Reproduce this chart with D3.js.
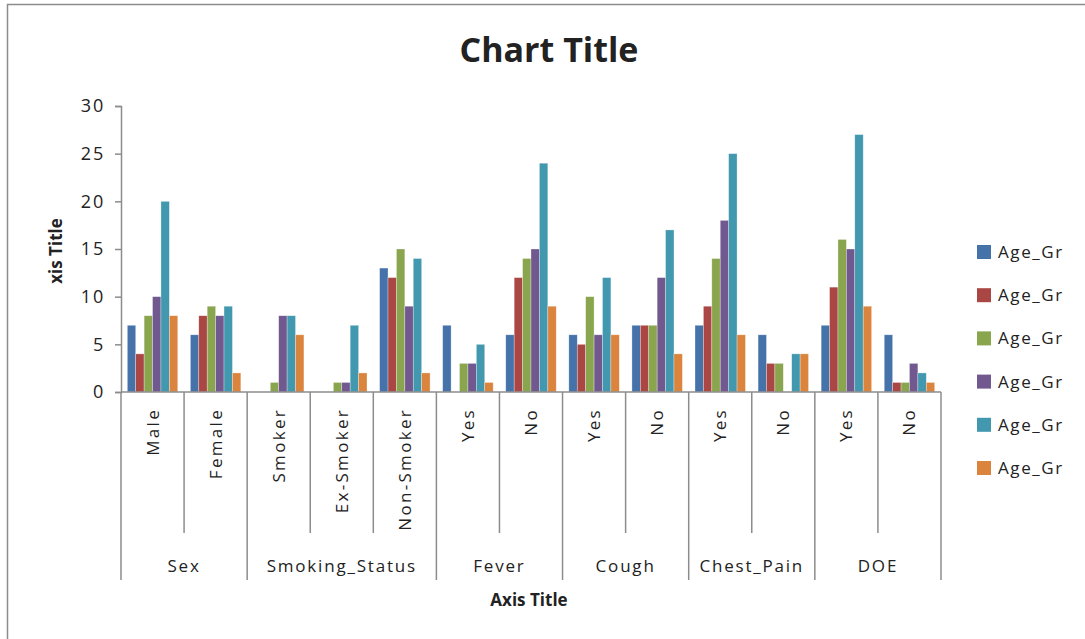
<!DOCTYPE html>
<html>
<head>
<meta charset="utf-8">
<script src="https://cdn.jsdelivr.net/npm/d3@7"></script>
<style>
  body { margin: 0; background: #fff; }
  text { font-family: "Open Sans", "DejaVu Sans", sans-serif; fill: #222; }
</style>
</head>
<body>
<div id="chart"></div>
<script>
// categories, grouped
var groups = ['Sex', 'Smoking_Status', 'Fever', 'Cough', 'Chest_Pain', 'DOE'];
var groupItems = [
  ['Male', 'Female'],
  ['Smoker', 'Ex-Smoker', 'Non-Smoker'],
  ['Yes', 'No'],
  ['Yes', 'No'],
  ['Yes', 'No'],
  ['Yes', 'No']
];
var seriesNames = ['Age_Gr', 'Age_Gr', 'Age_Gr', 'Age_Gr', 'Age_Gr', 'Age_Gr'];
var seriesColors = ['#4672AA', '#AA4643', '#89A54E', '#71588F', '#4198AF', '#DB843D'];

// one value per subcategory (13), per series
var s1 = [7, 6, 0, 0, 13, 7, 6, 6, 7, 7, 6, 7, 6];
var s2 = [4, 8, 0, 0, 12, 0, 12, 5, 7, 9, 3, 11, 1];
var s3 = [8, 9, 1, 1, 15, 3, 14, 10, 7, 14, 3, 16, 1];
var s4 = [10, 8, 8, 1, 9, 3, 15, 6, 12, 18, 0, 15, 3];
var s5 = [20, 9, 8, 7, 14, 5, 24, 12, 17, 25, 4, 27, 2];
var s6 = [8, 2, 6, 2, 2, 1, 9, 6, 4, 6, 4, 9, 1];
var series = [s1, s2, s3, s4, s5, s6];

var yTicks = [0, 5, 10, 15, 20, 25, 30];

var W = 1085, H = 639;
var plotL = 121, plotR = 941, plotT = 106, plotB = 392;
var axisColor = '#8c8c8c';

var svg = d3.select('#chart').append('svg')
  .attr('width', W).attr('height', H);

// frame (only top/left visible in view)
svg.append('rect')
  .attr('x', 7.5).attr('y', 4.5)
  .attr('width', 1200).attr('height', 800)
  .attr('fill', 'none').attr('stroke', axisColor).attr('stroke-width', 1.5);

// flatten categories
var cats = [];
groupItems.forEach(function(items, gi) {
  items.forEach(function(name) {
    cats.push({ group: gi, name: name, id: cats.length });
  });
});

var x = d3.scaleBand()
  .domain(cats.map(function(c) { return c.id; }))
  .range([plotL, plotR])
  .paddingInner(0).paddingOuter(0);

var xInner = d3.scaleBand()
  .domain(d3.range(series.length))
  .range([0, x.bandwidth()])
  .paddingInner(0).paddingOuter(0.75);

var y = d3.scaleLinear().domain([0, 30]).range([plotB, plotT]);

// bars
series.forEach(function(vals, si) {
  svg.append('g').selectAll('rect')
    .data(vals)
    .enter().append('rect')
    .attr('x', function(d, i) { return x(i) + xInner(si); })
    .attr('y', function(d) { return y(d); })
    .attr('width', xInner.bandwidth())
    .attr('height', function(d) { return y(0) - y(d); })
    .attr('fill', seriesColors[si])
    .attr('stroke', '#fff').attr('stroke-opacity', 0.5).attr('stroke-width', 0.6);
});

// y axis
var yAxis = d3.axisLeft(y).tickValues(yTicks).tickSize(6).tickPadding(10);
var gy = svg.append('g').attr('transform', 'translate(' + plotL + ',0)').call(yAxis);
gy.select('.domain').attr('stroke', axisColor).attr('stroke-width', 1.5);
gy.selectAll('.tick line').attr('stroke', axisColor).attr('stroke-width', 1.5);
gy.selectAll('.tick text')
  .style('font-size', '18px').style('letter-spacing', '1.8px').attr('fill', '#222');

// x axis baseline
svg.append('line')
  .attr('x1', plotL).attr('x2', plotR)
  .attr('y1', plotB).attr('y2', plotB)
  .attr('stroke', axisColor).attr('stroke-width', 1.5);

// category dividers: short ones inside a group, long ones between groups
var groupStart = {};
cats.forEach(function(c) {
  if (groupStart[c.group] === undefined) groupStart[c.group] = c.id;
});
cats.forEach(function(c) {
  var first = groupStart[c.group] === c.id;
  svg.append('line')
    .attr('x1', x(c.id)).attr('x2', x(c.id))
    .attr('y1', plotB).attr('y2', first ? 580 : 533)
    .attr('stroke', axisColor).attr('stroke-width', 1.5);
});
svg.append('line')
  .attr('x1', plotR).attr('x2', plotR)
  .attr('y1', plotB).attr('y2', 580)
  .attr('stroke', axisColor).attr('stroke-width', 1.5);

// subcategory labels
svg.append('g').selectAll('text')
  .data(cats)
  .enter().append('text')
  .attr('transform', function(c) {
    return 'translate(' + (x(c.id) + x.bandwidth() / 2 + 6) + ',408) rotate(-90)';
  })
  .attr('text-anchor', 'end')
  .style('font-size', '17px').style('letter-spacing', '2.3px')
  .text(function(c) { return c.name; });

// group labels
svg.append('g').selectAll('text')
  .data(groups)
  .enter().append('text')
  .attr('x', function(g, gi) {
    var ids = cats.filter(function(c) { return c.group === gi; });
    var a = x(ids[0].id), b = x(ids[ids.length - 1].id) + x.bandwidth();
    return (a + b) / 2;
  })
  .attr('y', 572)
  .attr('text-anchor', 'middle')
  .style('font-size', '17px').style('letter-spacing', '1.8px')
  .text(function(g) { return g; });

// titles
svg.append('text')
  .attr('x', 549).attr('y', 62)
  .attr('text-anchor', 'middle')
  .style('font-size', '34px').style('font-weight', 'bold')
  .text('Chart Title');

svg.append('text')
  .attr('x', 529).attr('y', 606)
  .attr('text-anchor', 'middle')
  .style('font-size', '17px').style('font-weight', 'bold')
  .text('Axis Title');

svg.append('text')
  .attr('transform', 'translate(62,251) rotate(-90)')
  .attr('text-anchor', 'middle')
  .style('font-size', '17px').style('font-weight', 'bold')
  .text('xis Title');

// legend
var legend = svg.append('g').selectAll('g')
  .data(seriesNames)
  .enter().append('g')
  .attr('transform', function(d, i) { return 'translate(977,' + (245 + i * 43.2) + ')'; });
legend.append('rect')
  .attr('width', 14).attr('height', 14)
  .attr('fill', function(d, i) { return seriesColors[i]; });
legend.append('text')
  .attr('x', 21).attr('y', 13)
  .style('font-size', '17px').style('letter-spacing', '1.6px')
  .text(function(d) { return d; });
</script>
</body>
</html>
